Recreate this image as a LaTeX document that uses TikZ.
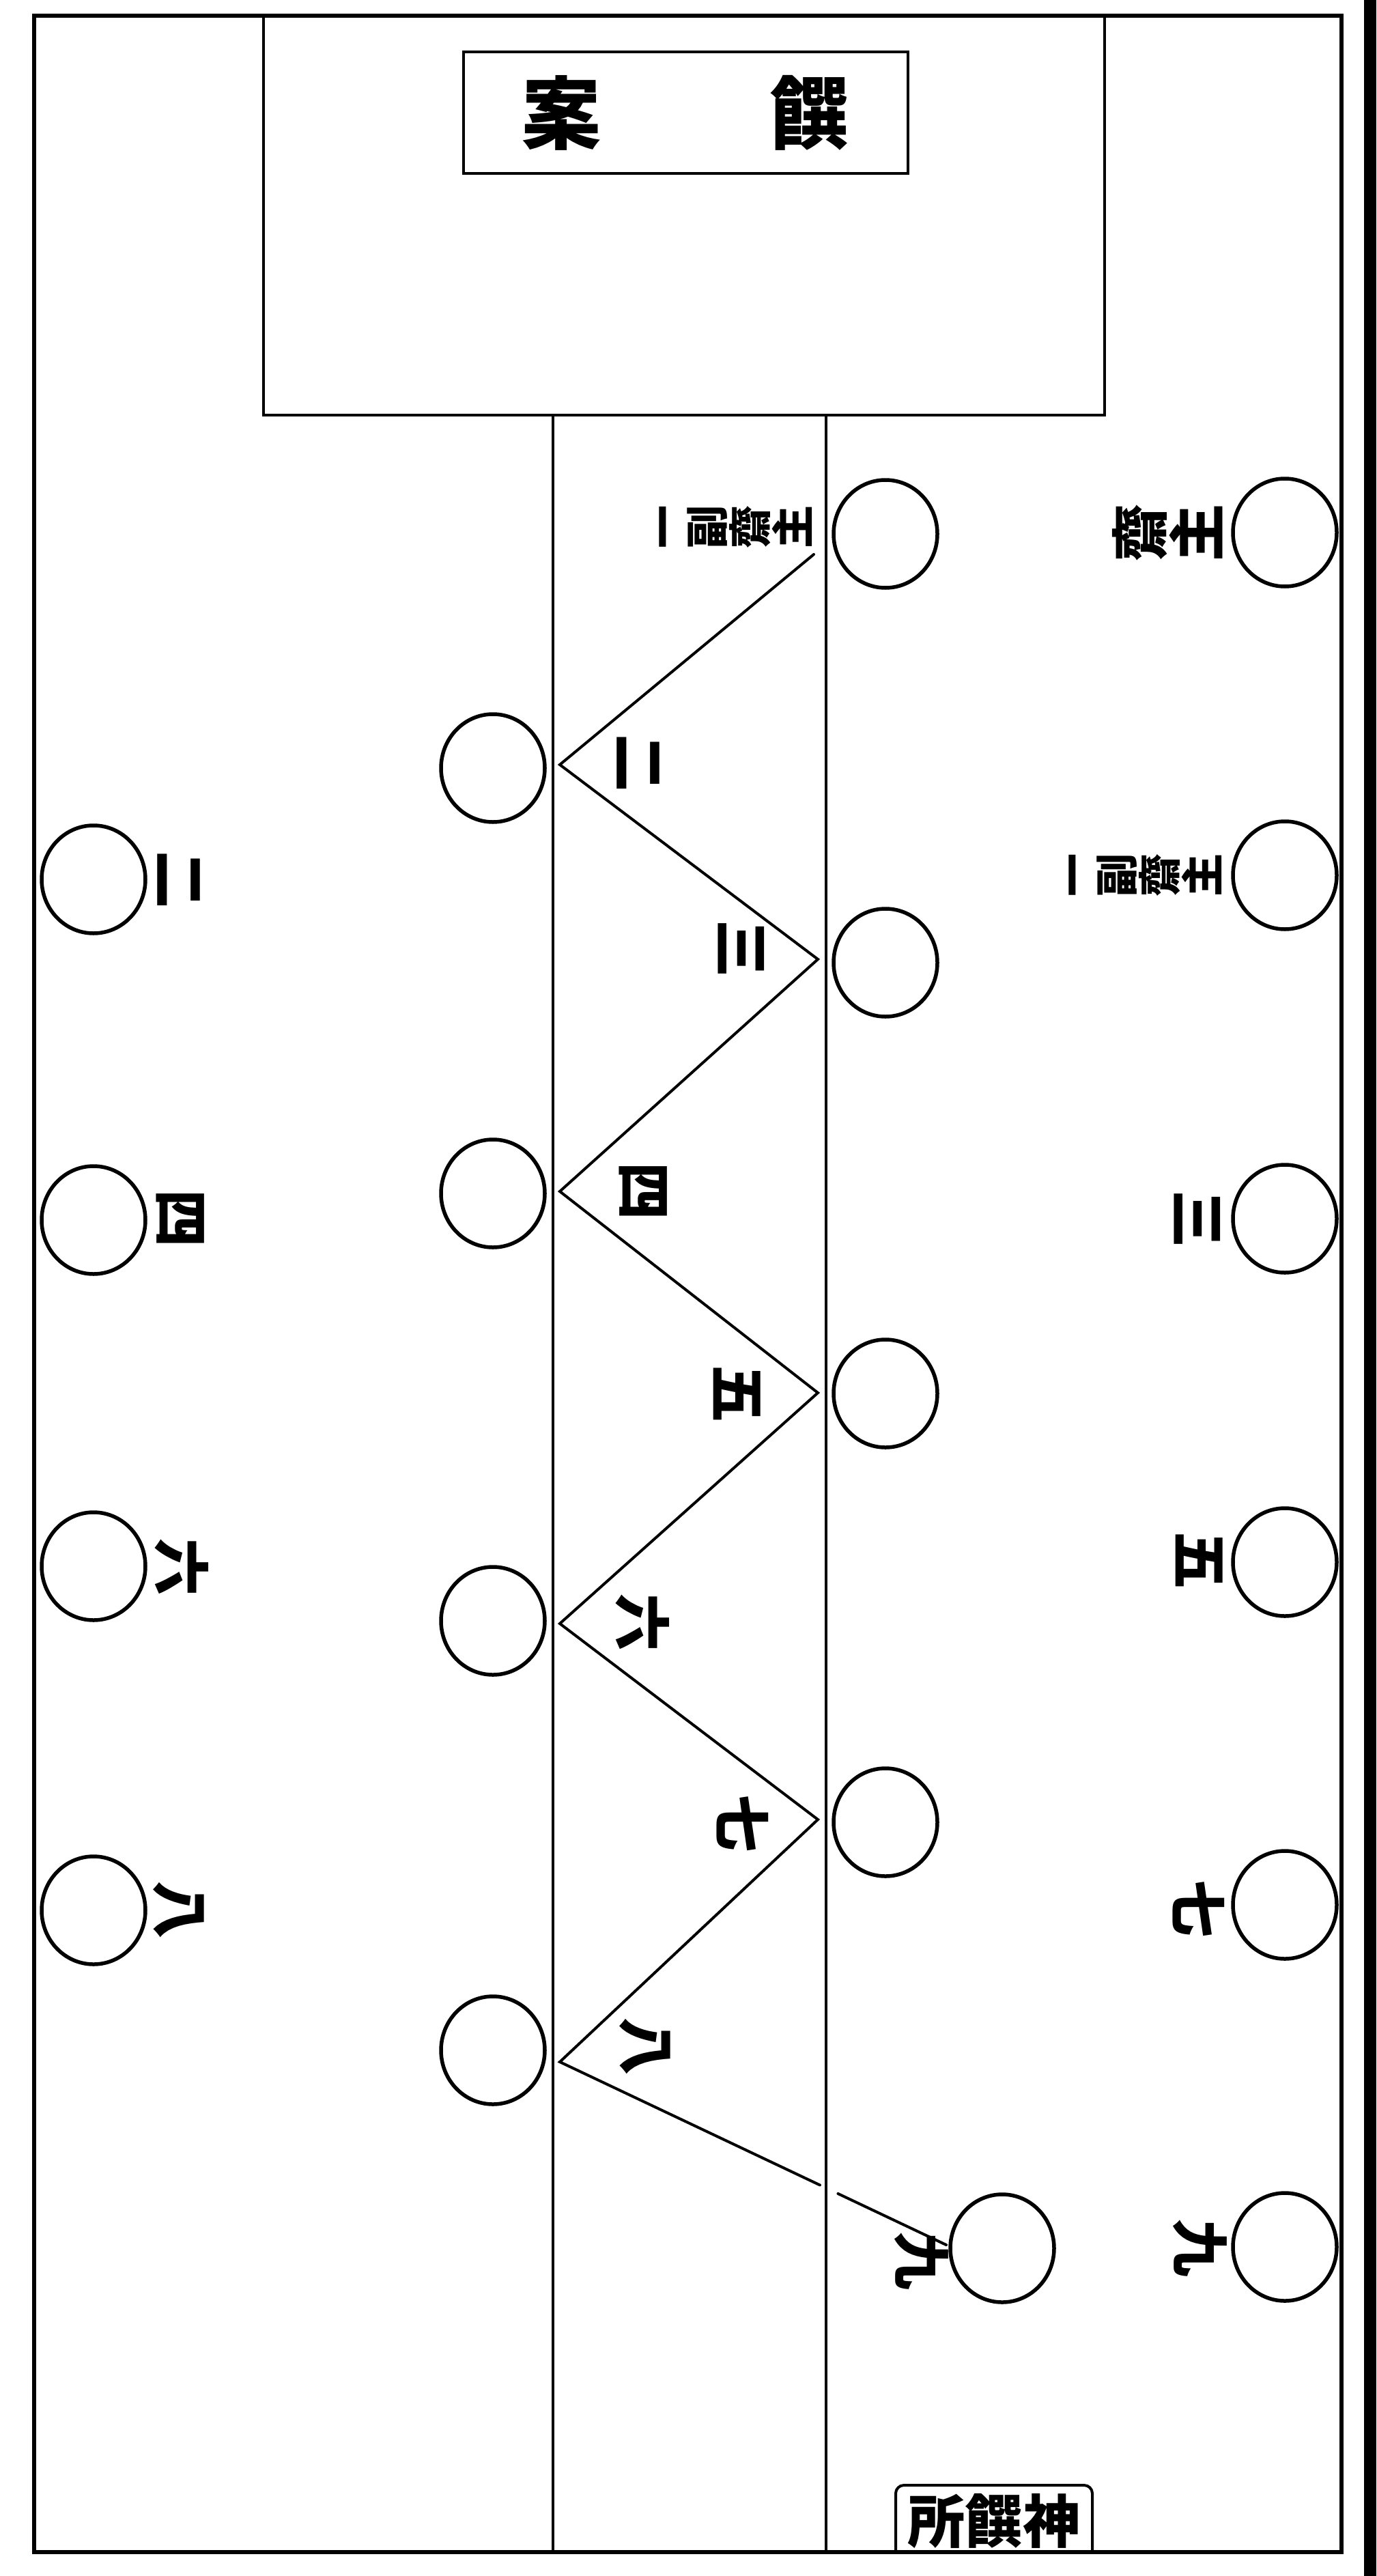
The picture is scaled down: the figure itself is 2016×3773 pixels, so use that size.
\documentclass[tikz,border=0pt]{standalone}
\usepackage{fontspec}
\newfontfamily\jp{Noto Sans CJK JP}
\usetikzlibrary{positioning,calc,shapes.geometric}

\begin{document}
\begin{tikzpicture}[x=0.1mm,y=-0.1mm,line cap=round,
  frame/.style={line width=0.6mm},
  rule/.style={line width=0.4mm},
  seat/.style={draw,ellipse,minimum width=15.2mm,minimum height=15.8mm,inner sep=0pt,line width=0.55mm},
  zig/.style={line width=0.4mm},
  num/.style={font=\jp\bfseries\fontsize{24}{24}\selectfont,rotate=-90,inner sep=0pt},
  role/.style={font=\jp\bfseries\fontsize{18}{18}\selectfont,rotate=90,align=center,inner sep=0pt},
  head/.style={draw,rule,minimum width=65.1mm,minimum height=17.8mm,
               font=\jp\bfseries\fontsize{33}{33}\selectfont}]
\useasboundingbox (0,0) rectangle (2016,3773);
% frame, table and the two aisle lines
\draw[frame] (50,23) rectangle (1965,3738);
\fill (1998,0) rectangle (2016,3773);
\draw[rule] (386,23) rectangle (1618,608);
\node[head] (table) at (1004,165) {案\hspace{24.8mm}饌};
\draw[rule] (810,608) -- (810,3738);
\draw[rule] (1210,608) -- (1210,3738);
% kitchen label at the foot
\node[font=\jp\bfseries\fontsize{24}{24}\selectfont,inner sep=0pt] (kitchen) at (1456,3692) {所饌神};
\draw[rule,rounded corners=1.2mm] (1312,3738) |- (1600,3640) -- (1600,3738);

% seats, right row
\node[seat] (r1) at (1882,780) {};
\node[seat] (r2) at (1882,1282) {};
\node[seat] (r3) at (1882,1785) {};
\node[seat] (r4) at (1882,2288) {};
\node[seat] (r5) at (1882,2790) {};
\node[seat] (r6) at (1882,3291) {};
% seats, inner right row
\node[seat] (b1) at (1297,782) {};
\node[seat] (b2) at (1297,1410) {};
\node[seat] (b3) at (1297,2041) {};
\node[seat] (b4) at (1297,2669) {};
\node[seat] (b5) at (1468,3293) {};
% seats, inner left row
\node[seat] (c1) at (722,1125) {};
\node[seat] (c2) at (722,1748) {};
\node[seat] (c3) at (722,2374) {};
\node[seat] (c4) at (722,3003) {};
% seats, left row
\node[seat] (l1) at (137,1288) {};
\node[seat] (l2) at (137,1787) {};
\node[seat] (l3) at (137,2294) {};
\node[seat] (l4) at (137,2798) {};

% names
\node[role,font=\jp\bfseries\fontsize{24}{22}\selectfont] (saishu) at (1710,780) {齋\\主};
\node[role] (fuku1) at (1678,1282) {一\\副\\齋\\主};
\node[role] (fuku2) at (1078,772) {一\\副\\齋\\主};
% numbers
\node[num] (nr3) at (1754,1786) {三};
\node[num] (nr5) at (1757,2286) {五};
\node[num] (nr7) at (1756,2796) {七};
\node[num] (nr9) at (1758,3293) {九};
\node[num] (nb3) at (1086,1390) {三};
\node[num] (nb5) at (1080,2042) {五};
\node[num] (nb7) at (1088,2671) {七};
\node[num] (nb9) at (1350,3312) {九};
\node[num] (nc2) at (935,1118) {二};
\node[num] (nc4) at (942,1745) {四};
\node[num] (nc6) at (941,2377) {六};
\node[num] (nc8) at (945,2998) {八};
\node[num] (nl2) at (262,1289) {二};
\node[num] (nl4) at (264,1785) {四};
\node[num] (nl6) at (266,2296) {六};
\node[num] (nl8) at (262,2798) {八};

% zigzag of the procession
\coordinate (z0) at (1192,812);
\coordinate (z1) at (820,1120);
\coordinate (z2) at (1198,1405);
\coordinate (z3) at (820,1745);
\coordinate (z4) at (1198,2040);
\coordinate (z5) at (820,2378);
\coordinate (z6) at (1198,2665);
\coordinate (z7) at (820,3020);
\coordinate (z8) at (1386,3288);
\draw[zig] (z0) -- (z1) -- (z2) -- (z3) -- (z4) -- (z5) -- (z6) -- (z7) -- ($(z7)!0.673!(z8)$);
\draw[zig] ($(z7)!0.72!(z8)$) -- (z8);
\end{tikzpicture}
\end{document}
